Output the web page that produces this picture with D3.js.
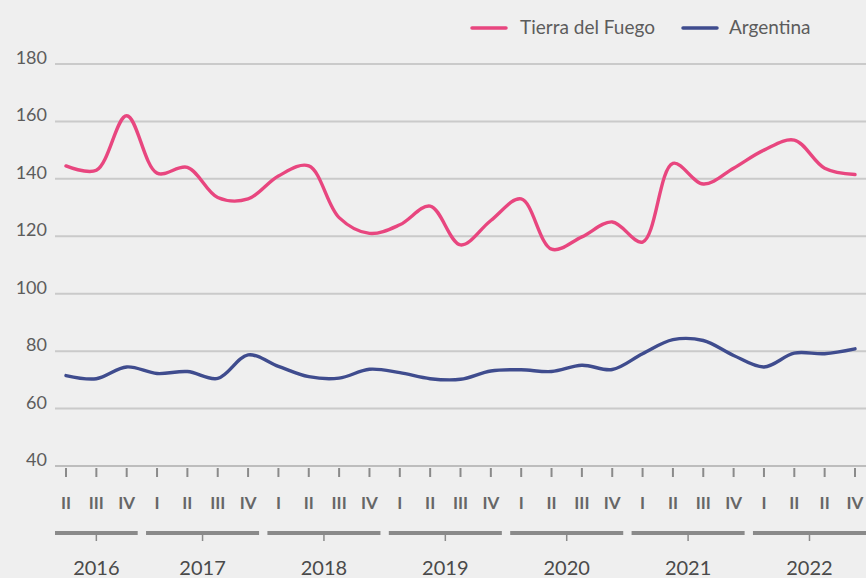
<!DOCTYPE html>
<html>
<head>
<meta charset="utf-8">
<script src="https://cdn.jsdelivr.net/npm/d3@7"></script>
<style>
  body { margin: 0; background: #efefef; }
  svg { display: block; font-family: Lato, "Open Sans", sans-serif; }
</style>
</head>
<body>
<script>
// quarters shown on the axis (reference repeats "II" in 2022)
const quarterLabels = ["II","III","IV",
  "I","II","III","IV",
  "I","II","III","IV",
  "I","II","III","IV",
  "I","II","III","IV",
  "I","II","III","IV",
  "I","II","II","IV"];
const yearLabels = ["2016","2017","2018","2019","2020","2021","2022"];
const quartersPerYear = [3,4,4,4,4,4,4];

const tierraDelFuego = [144.5,143,162, 142,144,133.5,133, 141,144.5,126.5,121, 124,130.5,117,125.5,
  133,115.5,119.8,125, 118,145.4,138.2,143.7, 150,153.5,143.7,141.5];
const argentina = [71.5,70.4,74.5, 72.2,72.9,70.5,78.7, 74.7,71.1,70.6,73.7, 72.5,70.4,70.2,73.1,
  73.5,72.9,75.1,73.6, 79.1,84,83.7,78.5, 74.5,79.3,79.1,80.8];

const yTicks = [40,60,80,100,120,140,160,180];

const series = [
  {name: "Tierra del Fuego", values: tierraDelFuego, color: "#e8467f"},
  {name: "Argentina", values: argentina, color: "#3f4c8e"}
];

const width = 866, height = 578;
const svg = d3.select("body").append("svg")
    .attr("width", width)
    .attr("height", height);

svg.append("rect").attr("width", width).attr("height", height).attr("fill", "#efefef");

const x = d3.scalePoint()
    .domain(d3.range(quarterLabels.length))
    .range([66, 855]);
const y = d3.scaleLinear()
    .domain([40, 180])
    .range([466, 64]);

// gridlines + y labels
svg.selectAll(".grid")
    .data(yTicks)
    .enter().append("line")
    .attr("x1", 55).attr("x2", width)
    .attr("y1", d => y(d)).attr("y2", d => y(d))
    .attr("stroke", d => d === 40 ? "#bdbdbd" : "#cacaca")
    .attr("stroke-width", 2);

svg.selectAll(".ylab")
    .data(yTicks)
    .enter().append("text")
    .attr("x", 47)
    .attr("y", d => y(d))
    .attr("text-anchor", "end")
    .attr("font-size", 18)
    .attr("fill", "#5c5c5c")
    .text(d => d);

// quarter ticks and labels
svg.selectAll(".qtick")
    .data(quarterLabels)
    .enter().append("line")
    .attr("x1", (d, i) => x(i)).attr("x2", (d, i) => x(i))
    .attr("y1", 468).attr("y2", 477)
    .attr("stroke", "#8a8a8a").attr("stroke-width", 2);

svg.selectAll(".qlab")
    .data(quarterLabels)
    .enter().append("text")
    .attr("x", (d, i) => x(i))
    .attr("y", 509)
    .attr("text-anchor", "middle")
    .attr("font-size", 17)
    .attr("font-weight", "bold")
    .attr("fill", "#666")
    .text(d => d);

// year brackets
let start = 0;
const years = yearLabels.map((yr, j) => {
    const first = start, last = start + quartersPerYear[j] - 1;
    start = last + 1;
    return {yr, x0: x(first) - 11, x1: x(last) + 11, cx: (x(first) + x(last)) / 2};
});

const yg = svg.selectAll(".year").data(years).enter().append("g");
yg.append("line")
    .attr("x1", d => d.x0).attr("x2", d => d.x1)
    .attr("y1", 533).attr("y2", 533)
    .attr("stroke", "#8a8a8a").attr("stroke-width", 4);
yg.append("line")
    .attr("x1", d => d.cx).attr("x2", d => d.cx)
    .attr("y1", 533).attr("y2", 541)
    .attr("stroke", "#8a8a8a").attr("stroke-width", 1.5);
yg.append("text")
    .attr("x", d => d.cx)
    .attr("y", 575)
    .attr("text-anchor", "middle")
    .attr("font-size", 20)
    .attr("fill", "#4a4a4a")
    .text(d => d.yr);

// lines
const line = d3.line()
    .x((d, i) => x(i))
    .y(d => y(d))
    .curve(d3.curveCatmullRom.alpha(0.5));

svg.selectAll(".series")
    .data(series)
    .enter().append("path")
    .attr("d", d => line(d.values))
    .attr("fill", "none")
    .attr("stroke", d => d.color)
    .attr("stroke-width", 3.4)
    .attr("stroke-linecap", "round");

// legend
const legendPos = [{lx: 472, tx: 520}, {lx: 683, tx: 729}];
const lg = svg.selectAll(".legend")
    .data(series)
    .enter().append("g")
    .attr("transform", (d, i) => `translate(${legendPos[i].lx},28)`);
lg.append("line")
    .attr("x1", 0).attr("x2", 34)
    .attr("stroke", d => d.color)
    .attr("stroke-width", 3.5)
    .attr("stroke-linecap", "round");
lg.append("text")
    .attr("x", (d, i) => legendPos[i].tx - legendPos[i].lx)
    .attr("y", 6)
    .attr("font-size", 19)
    .attr("fill", "#5c5c5c")
    .text(d => d.name);
</script>
</body>
</html>
